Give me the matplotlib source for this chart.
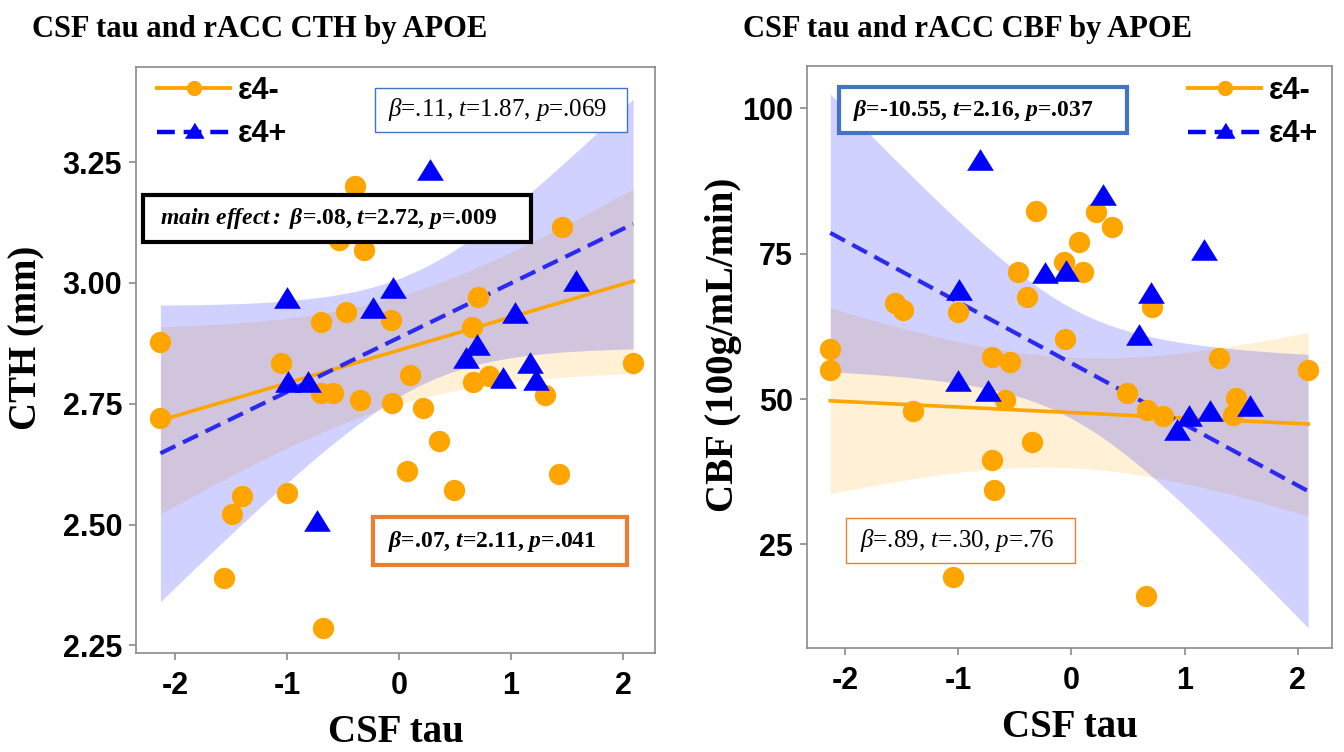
import numpy as np
import matplotlib.pyplot as plt
from matplotlib.lines import Line2D
from matplotlib.patches import Rectangle

# CSF tau per subject (shared by both panels), split by APOE group
tau_neg = [-2.13, -2.13, -1.56, -1.49, -1.40, -1.05, -1.00, -0.70, -0.70, -0.68,
           -0.59, -0.54, -0.47, -0.39, -0.35, -0.31, -0.07, -0.06, 0.07, 0.10,
           0.215, 0.357, 0.49, 0.655, 0.665, 0.707, 0.805, 1.305, 1.43, 1.457, 2.09]
tau_pos = [-1.00, -0.99, -0.81, -0.735, -0.23, -0.05, 0.28, 0.595, 0.70, 0.93,
           1.035, 1.17, 1.225, 1.58]

# rACC cortical thickness (mm)
cth_neg = [2.878, 2.72, 2.389, 2.522, 2.559, 2.834, 2.565, 2.919, 2.772, 2.286,
           2.772, 3.089, 2.94, 3.2, 2.758, 3.068, 2.923, 2.752, 2.611, 2.81,
           2.741, 2.673, 2.571, 2.909, 2.795, 2.971, 2.807, 2.768, 2.605, 3.116, 2.834]
cth_pos = [2.965, 2.79, 2.79, 2.503, 2.944, 2.986, 3.23, 2.84, 2.868, 2.80,
           2.934, 2.83, 2.795, 3.0]

# rACC cerebral blood flow (100g/mL/min)
cbf_neg = [58.6, 55.0, 66.5, 65.3, 47.9, 19.4, 65.0, 57.2, 39.5, 34.3,
           49.8, 56.3, 71.9, 67.5, 42.6, 82.3, 73.6, 60.3, 77.0, 71.9,
           82.2, 79.6, 51.0, 16.1, 48.1, 65.8, 47.1, 57.0, 47.2, 50.2, 55.0]
cbf_pos = [52.75, 68.4, 90.8, 51.0, 71.3, 71.7, 84.8, 60.7, 67.9, 44.3,
           46.7, 75.3, 47.6, 48.5]

# model lines: intercept, slope
cth_line_neg = [2.861, 0.0683]
cth_line_pos = [2.887, 0.1125]
cbf_line_neg = [47.68, -0.948]
cbf_line_pos = [56.17, -10.53]

# 95% band: centre x, half-width at centre, curvature
cth_band_neg = [0.0, 0.112, 0.0055]
cth_band_pos = [0.2, 0.12, 0.0147]
cbf_band_neg = [0.0, 9.5, 36.5]
cbf_band_pos = [0.0, 9.5, 106.0]

group_labels = ['ε4-', 'ε4+']

ORANGE = '#FFA500'
BLUE = '#0000FF'
BOX_BLUE = '#4472C4'
BOX_ORANGE = '#ED7D31'
SERIF = 'Liberation Serif'
SANS = 'Liberation Sans'

plt.rcParams['mathtext.fontset'] = 'custom'
plt.rcParams['mathtext.rm'] = SERIF
plt.rcParams['mathtext.it'] = SERIF + ':italic'
plt.rcParams['mathtext.bf'] = SERIF + ':bold'
plt.rcParams['mathtext.bfit'] = SERIF + ':italic:bold'

tri = [(-1, -0.62), (1, -0.62), (0, 1)]


def draw_panel(ax, y_neg, y_pos, lines, bands):
    xs = np.linspace(min(tau_neg + tau_pos), max(tau_neg + tau_pos), 200)
    styles = [dict(color=ORANGE, lw=2.6, ls='-', fill=ORANGE, alpha=0.16),
              dict(color='#2b2bf0', lw=3.0, ls=(0, (4, 2)), fill=BLUE, alpha=0.18)]
    for line, band, st in zip(lines, bands, styles):
        fit = line[0] + line[1] * xs
        hw = np.sqrt(band[1] ** 2 + band[2] * (xs - band[0]) ** 2)
        ax.fill_between(xs, fit - hw, fit + hw, color=st['fill'], alpha=st['alpha'], lw=0)
        ax.plot(xs, fit, color=st['color'], lw=st['lw'], ls=st['ls'])
    ax.scatter(tau_neg, y_neg, s=235, color=ORANGE, lw=0, zorder=5)
    ax.scatter(tau_pos, y_pos, s=370, marker=tri, color=BLUE, lw=0, zorder=6)

    ax.set_xticks([-2, -1, 0, 1, 2])
    ax.set_xticklabels(['-2', '-1', '0', '1', '2'])
    for side in ax.spines.values():
        side.set_color('#8a8a8a')
        side.set_linewidth(1.2)
    ax.tick_params(length=5, width=1.2, color='#8a8a8a', labelsize=22, pad=5)
    ax.tick_params(axis='x', pad=8)
    for lab in ax.get_xticklabels() + ax.get_yticklabels():
        lab.set_fontfamily(SANS)
        lab.set_fontweight('bold')
    ax.set_xlabel('CSF tau', fontsize=28, fontweight='bold', family=SERIF, labelpad=9)


def add_box(ax, x0, y0, w, h, color, lw, text, tx, size, weight):
    ax.add_patch(Rectangle((x0, y0), w, h, transform=ax.transAxes, fc='white',
                           ec=color, lw=lw, zorder=8, clip_on=False))
    ax.text(tx, y0 + h / 2, text, transform=ax.transAxes, ha='left', va='center',
            fontsize=size, fontweight=weight, family=SERIF, zorder=9)


def add_legend(ax, x, y):
    handles = [Line2D([], [], color=ORANGE, lw=2.8, marker='o', ms=10),
               Line2D([], [], color=BLUE, lw=3.2, ls=(0, (4, 2)), marker=tri, ms=13)]
    leg = ax.legend(handles, group_labels, loc='upper left', bbox_to_anchor=(x, y),
                    frameon=False, borderaxespad=0, borderpad=0, handlelength=2.4,
                    handletextpad=0.25, labelspacing=0.45,
                    prop=dict(family=SANS, weight='bold', size=22))
    leg.set_zorder(10)


fig = plt.figure(figsize=(13.44, 7.52), dpi=100)
ax1 = fig.add_axes([0.1012, 0.1316, 0.3862, 0.7793])
ax2 = fig.add_axes([0.6004, 0.1383, 0.3906, 0.7739])

# left: cortical thickness
draw_panel(ax1, cth_neg, cth_pos, [cth_line_neg, cth_line_pos], [cth_band_neg, cth_band_pos])
ax1.set_xlim(-2.348, 2.286)
ax1.set_ylim(2.234, 3.447)
ax1.set_yticks([2.25, 2.50, 2.75, 3.00, 3.25])
ax1.set_yticklabels(['2.25', '2.50', '2.75', '3.00', '3.25'])
for lab in ax1.get_yticklabels():
    lab.set_fontfamily(SANS)
    lab.set_fontweight('bold')
ax1.set_ylabel('CTH (mm)', fontsize=28, fontweight='bold', family=SERIF)
ax1.yaxis.set_label_coords(-0.175, 0.5375)
add_legend(ax1, 0.0405, 0.9855)
add_box(ax1, 0.4605, 0.8891, 0.4856, 0.0751, BOX_BLUE, 1.0,
        r'$\beta$=.11, $t$=1.87, $p$=.069', 0.4856, 18, 'normal')
add_box(ax1, 0.0135, 0.7014, 0.7476, 0.0802, 'black', 3.0,
        r'$\mathbfit{main\ effect:}$ $\mathbfit{\beta}$=.08, $\mathbfit{t}$=2.72, $\mathbfit{p}$=.009',
        0.0462, 17, 'bold')
add_box(ax1, 0.4566, 0.1502, 0.4894, 0.0819, BOX_ORANGE, 3.0,
        r'$\mathbfit{\beta}$=.07, $\mathbfit{t}$=2.11, $\mathbfit{p}$=.041', 0.4856, 17, 'bold')

# right: blood flow
draw_panel(ax2, cbf_neg, cbf_pos, [cbf_line_neg, cbf_line_pos], [cbf_band_neg, cbf_band_pos])
ax2.set_xlim(-2.336, 2.30)
ax2.set_ylim(7.17, 107.3)
ax2.set_yticks([25, 50, 75, 100])
ax2.set_yticklabels(['25', '50', '75', '100'])
for lab in ax2.get_yticklabels():
    lab.set_fontfamily(SANS)
    lab.set_fontweight('bold')
ax2.set_ylabel('CBF (100g/mL/min)', fontsize=28, fontweight='bold', family=SERIF)
ax2.yaxis.set_label_coords(-0.124, 0.5206)
add_legend(ax2, 0.7257, 0.9837)
add_box(ax2, 0.061, 0.8849, 0.5486, 0.079, BOX_BLUE, 3.0,
        r'$\mathbfit{\beta}$=-10.55, $\mathbfit{t}$=2.16, $\mathbfit{p}$=.037', 0.0876, 17, 'bold')
add_box(ax2, 0.0743, 0.146, 0.4362, 0.0773, BOX_ORANGE, 1.0,
        r'$\beta$=.89, $t$=.30, $p$=.76', 0.101, 18, 'normal')

fig.text(0.1935, 0.9508, 'CSF tau and rACC CTH by APOE', ha='center', va='baseline',
         fontsize=22, fontweight='bold', family=SERIF)
fig.text(0.7199, 0.9508, 'CSF tau and rACC CBF by APOE', ha='center', va='baseline',
         fontsize=22, fontweight='bold', family=SERIF)

fig.savefig('out.png', dpi=100)
